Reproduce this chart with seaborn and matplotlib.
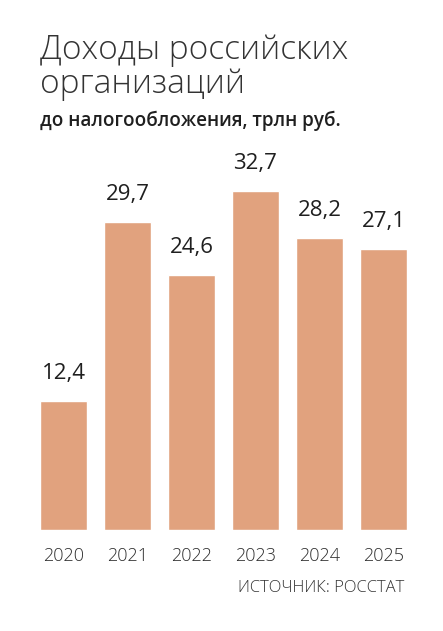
import matplotlib
matplotlib.use("Agg")
import matplotlib.pyplot as plt
import seaborn as sns
import pandas as pd

# данные
years = ["2020", "2021", "2022", "2023", "2024", "2025"]
values = [12.4, 29.7, 24.6, 32.7, 28.2, 27.1]
labels = ["12,4", "29,7", "24,6", "32,7", "28,2", "27,1"]

title_lines = ["Доходы российских", "организаций"]
subtitle = "до налогообложения, трлн руб."
source = "ИСТОЧНИК: РОССТАТ"

bar_color = "#E1A27E"
text_color = "#1f1f1f"

sns.set_style("white")
plt.rcParams["font.family"] = ["Open Sans", "DejaVu Sans"]

W, H = 443, 631
fig = plt.figure(figsize=(W / 100, H / 100), dpi=100)

# оси: низ столбцов на 530 px сверху
left, right_px = 40, 407
bottom_px, top_px = 530, 100
ax = fig.add_axes([left / W, 1 - bottom_px / H, (right_px - left) / W, (bottom_px - top_px) / H])

df = pd.DataFrame({"year": years, "value": values})
width = 47 / 64
sns.barplot(data=df, x="year", y="value", color=bar_color, width=width,
            saturation=1, ax=ax)

px_per_unit = 10.37
ax.set_ylim(0, (bottom_px - top_px) / px_per_unit)
ax.set_xlim(-width / 2, len(years) - 1 + width / 2)

for i, (v, lab) in enumerate(zip(values, labels)):
    ax.text(i, v + 22 / px_per_unit, lab, ha="center", va="baseline",
            fontsize=16, color=text_color,
            family=["Liberation Sans Narrow", "Open Sans", "DejaVu Sans"])

ax.set_xlabel("")
ax.set_ylabel("")
ax.set_yticks([])
ax.tick_params(axis="x", length=0, pad=12, labelsize=13, labelcolor="#2e2e2e")
for t in ax.get_xticklabels():
    t.set_fontweight("light")
sns.despine(ax=ax, left=True, bottom=True)

# заголовок
fig.text(left / W, 1 - 59 / H, title_lines[0], fontsize=24, fontweight="light",
         color="#333333", va="baseline", ha="left")
fig.text(left / W, 1 - 93 / H, title_lines[1], fontsize=24, fontweight="light",
         color="#333333", va="baseline", ha="left")
fig.text(left / W, 1 - 126 / H, subtitle, fontsize=13.6, fontweight="semibold",
         color=text_color, va="baseline", ha="left")

fig.text(404 / W, 1 - 592 / H, source, fontsize=12, fontweight="light",
         color="#333333", va="baseline", ha="right")

fig.savefig("out.png", dpi=100)
